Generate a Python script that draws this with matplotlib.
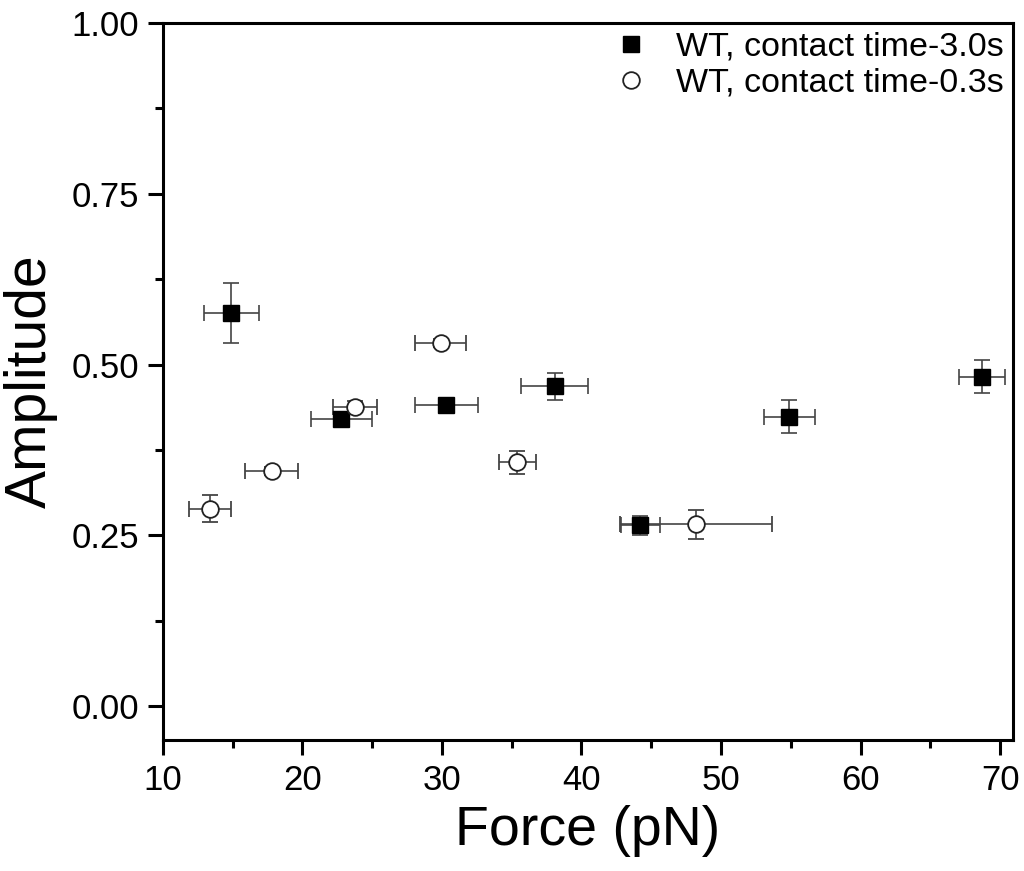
import numpy as np
import matplotlib.pyplot as plt
from matplotlib.ticker import MultipleLocator

plt.rcParams['font.family'] = ['Liberation Sans', 'DejaVu Sans']

# WT, contact time 3.0 s (filled squares)
force_3s = [14.9, 22.8, 30.3, 38.1, 44.2, 54.9, 68.7]
force_3s_err = [1.97, 2.19, 2.26, 2.4, 1.4, 1.83, 1.65]
amp_3s = [0.575, 0.420, 0.441, 0.468, 0.265, 0.424, 0.482]
amp_3s_err = [0.044, 0.010, 0.006, 0.020, 0.014, 0.024, 0.024]

# WT, contact time 0.3 s (open circles)
force_03s = [13.4, 17.8, 23.8, 29.9, 35.4, 48.2]
force_03s_err = [1.5, 1.9, 1.58, 1.8, 1.33, 5.45]
amp_03s = [0.289, 0.344, 0.438, 0.532, 0.357, 0.266]
amp_03s_err = [0.020, 0.006, 0.008, 0.006, 0.017, 0.021]

fig = plt.figure(figsize=(10.24, 8.71), dpi=100)
ax = fig.add_axes([0.159, 0.150, 0.830, 0.8236])

ebkw = dict(ecolor='#444444', elinewidth=1.2, capsize=6, capthick=1.2, linestyle='none')
ax.errorbar(force_3s, amp_3s, xerr=force_3s_err, yerr=amp_3s_err, marker='s',
            markersize=11, mfc='black', mec='black', label='WT, contact time-3.0s', zorder=3, **ebkw)
ax.errorbar(force_03s, amp_03s, xerr=force_03s_err, yerr=amp_03s_err, marker='o',
            markersize=12, mfc='white', mec='#222222', mew=1.3, label='WT, contact time-0.3s', zorder=3, **ebkw)

ax.set_xlim(10, 70.9)
ax.set_ylim(-0.05, 1.0)
ax.xaxis.set_major_locator(MultipleLocator(10))
ax.xaxis.set_minor_locator(MultipleLocator(5))
ax.yaxis.set_major_locator(MultipleLocator(0.25))
ax.yaxis.set_minor_locator(MultipleLocator(0.125))
ax.yaxis.set_major_formatter(plt.FuncFormatter(lambda v, p: f"{v:.2f}"))

for s in ax.spines.values():
    s.set_linewidth(2.2)
ax.tick_params(which='major', direction='out', length=11, width=2.2, labelsize=25, pad=6)
ax.tick_params(which='minor', direction='out', length=6, width=2.2)
ax.tick_params(top=False, right=False)

ax.set_xlabel('Force (pN)', fontsize=40, labelpad=6)
ax.set_ylabel('Amplitude', fontsize=41, labelpad=10)

# legend without error bars
h1 = plt.Line2D([], [], marker='s', color='none', mfc='black', mec='black', markersize=11)
h2 = plt.Line2D([], [], marker='o', color='none', mfc='white', mec='#222222', markersize=12, mew=1.3)
ax.legend([h1, h2], ['WT, contact time-3.0s', 'WT, contact time-0.3s'], loc='upper right',
          frameon=False, fontsize=24.5, handletextpad=0.75, borderaxespad=0.1, borderpad=0.15,
          labelspacing=0.15, handlelength=1.2)

fig.savefig('out.png', dpi=100)
